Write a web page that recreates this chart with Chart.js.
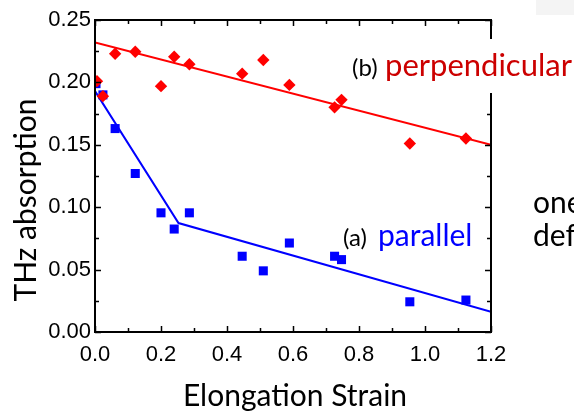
<!DOCTYPE html>
<html>
<head>
<meta charset="utf-8">
<script src="https://cdn.jsdelivr.net/npm/chart.js@4"></script>
<style>
  html, body { margin: 0; padding: 0; background: #fff; }
  #wrap { position: relative; width: 574px; height: 416px; }
</style>
</head>
<body>
<div id="wrap"><canvas id="c" width="574" height="416"></canvas></div>
<script>
// ---- data ----
const strainPerp = [0.006, 0.024, 0.061, 0.122, 0.200, 0.240, 0.286, 0.446, 0.510, 0.589, 0.726, 0.747, 0.954, 1.124];
const absPerp    = [0.201, 0.189, 0.223, 0.2245, 0.197, 0.2205, 0.2145, 0.207, 0.218, 0.198, 0.180, 0.186, 0.151, 0.155];
const strainPar  = [0.003, 0.024, 0.061, 0.122, 0.200, 0.240, 0.286, 0.446, 0.510, 0.589, 0.726, 0.747, 0.954, 1.124];
const absPar     = [0.199, 0.190, 0.163, 0.127, 0.0955, 0.0825, 0.0955, 0.0607, 0.049, 0.0713, 0.0607, 0.058, 0.0242, 0.0256];
const fitPerpX = [0, 1.2];
const fitPerpY = [0.232, 0.150];
const fitParX  = [0, 0.253, 1.2];
const fitParY  = [0.193, 0.0873, 0.0162];
const xTicks = [0.0, 0.2, 0.4, 0.6, 0.8, 1.0, 1.2];
const yTicks = [0.00, 0.05, 0.10, 0.15, 0.20, 0.25];
const xTitle = 'Elongation Strain';
const yTitle = 'THz absorption';
const labelB = '(b)', labelPerp = 'perpendicular';
const labelA = '(a)', labelPar = 'parallel';
const sideText = ['one', 'def'];

const pts = (xs, ys) => xs.map((x, i) => ({ x, y: ys[i] }));

const TITLE_FONT = '"Lato", "Open Sans", sans-serif';
const TICK_FONT = '"Liberation Sans", Arial, sans-serif';

const framePlugin = {
  id: 'frame',
  afterDraw(chart) {
    const ctx = chart.ctx;
    const xs = chart.scales.x, ys = chart.scales.y;
    const L = xs.left, R = xs.right, T = ys.top, B = ys.bottom;
    ctx.save();
    // faint gray patch top-right
    ctx.fillStyle = '#f4f4f4';
    ctx.fillRect(536, 0, 38, 15);
    // frame
    ctx.strokeStyle = '#000';
    ctx.lineWidth = 2;
    ctx.strokeRect(L, T, R - L, B - T);
    // ticks
    ctx.lineWidth = 1.5;
    ctx.beginPath();
    for (let i = 0; i <= 12; i++) {
      const v = i / 10;
      const px = Math.round(xs.getPixelForValue(v)) + 0.5;
      const len = (i % 2 === 0) ? 6 : 4;
      ctx.moveTo(px, B); ctx.lineTo(px, B - len);
      ctx.moveTo(px, T); ctx.lineTo(px, T + len);
    }
    for (let i = 0; i <= 10; i++) {
      const v = i * 0.025;
      const py = Math.round(ys.getPixelForValue(v)) + 0.5;
      const len = (i % 2 === 0) ? 6 : 4;
      ctx.moveTo(L, py); ctx.lineTo(L + len, py);
      ctx.moveTo(R, py); ctx.lineTo(R - len, py);
    }
    ctx.stroke();

    // axis titles
    ctx.fillStyle = '#000';
    ctx.font = '30px ' + TITLE_FONT;
    ctx.textAlign = 'center';
    ctx.textBaseline = 'alphabetic';
    ctx.fillText(xTitle, 295, 406);
    ctx.save();
    ctx.translate(36, 200);
    ctx.rotate(-Math.PI / 2);
    ctx.fillText(yTitle, 0, 0);
    ctx.restore();

    // annotation (b) with white box
    ctx.fillStyle = '#fff';
    ctx.fillRect(346, 39, 228, 54);
    ctx.textAlign = 'left';
    ctx.fillStyle = '#000';
    ctx.font = '24px ' + TITLE_FONT;
    ctx.fillText(labelB, 352, 76);
    ctx.fillStyle = '#cc0000';
    ctx.font = '31px ' + TITLE_FONT;
    ctx.fillText(labelPerp, 385, 76);

    // annotation (a)
    ctx.fillStyle = '#000';
    ctx.font = '24px ' + TITLE_FONT;
    ctx.fillText(labelA, 343, 246);
    ctx.fillStyle = '#0000ff';
    ctx.font = '30px ' + TITLE_FONT;
    ctx.fillText(labelPar, 378, 246);

    // side text
    ctx.fillStyle = '#000';
    ctx.font = '30px ' + TITLE_FONT;
    ctx.fillText(sideText[0], 533, 213);
    ctx.fillText(sideText[1], 533, 246);
    ctx.restore();
  }
};

new Chart(document.getElementById('c'), {
  type: 'scatter',
  data: {
    datasets: [
      { label: 'perpendicular', data: pts(strainPerp, absPerp), pointStyle: 'rectRot', pointRadius: 6.2,
        backgroundColor: '#ff0000', borderColor: '#ff0000', borderWidth: 0, showLine: false },
      { label: 'parallel', data: pts(strainPar, absPar), pointStyle: 'rect', pointRadius: 6.4,
        backgroundColor: '#0000ff', borderColor: '#0000ff', borderWidth: 0, showLine: false },
      { label: 'fit perp', data: pts(fitPerpX, fitPerpY), showLine: true, pointRadius: 0,
        borderColor: '#ff0000', borderWidth: 2, fill: false },
      { label: 'fit par', data: pts(fitParX, fitParY), showLine: true, pointRadius: 0,
        borderColor: '#0000ff', borderWidth: 2, fill: false }
    ]
  },
  options: {
    responsive: false,
    animation: false,
    events: [],
    layout: { padding: { top: 20, right: 83, left: 0, bottom: 0 } },
    plugins: { legend: { display: false }, tooltip: { enabled: false } },
    scales: {
      x: {
        type: 'linear', min: 0, max: 1.2,
        afterBuildTicks: s => { s.ticks = xTicks.map(v => ({ value: v })); },
        ticks: { callback: v => v.toFixed(1), font: { family: TICK_FONT, size: 22 }, color: '#000', padding: 10, maxRotation: 0 },
        grid: { display: false, drawTicks: false },
        border: { display: false },
        afterFit: s => { s.height = 84; }
      },
      y: {
        type: 'linear', min: 0, max: 0.25,
        afterBuildTicks: s => { s.ticks = yTicks.map(v => ({ value: v })); },
        ticks: { callback: v => v.toFixed(2), font: { family: TICK_FONT, size: 22 }, color: '#000', padding: 4 },
        grid: { display: false, drawTicks: false },
        border: { display: false },
        afterFit: s => { s.width = 95; }
      }
    }
  },
  plugins: [framePlugin]
});
</script>
</body>
</html>
